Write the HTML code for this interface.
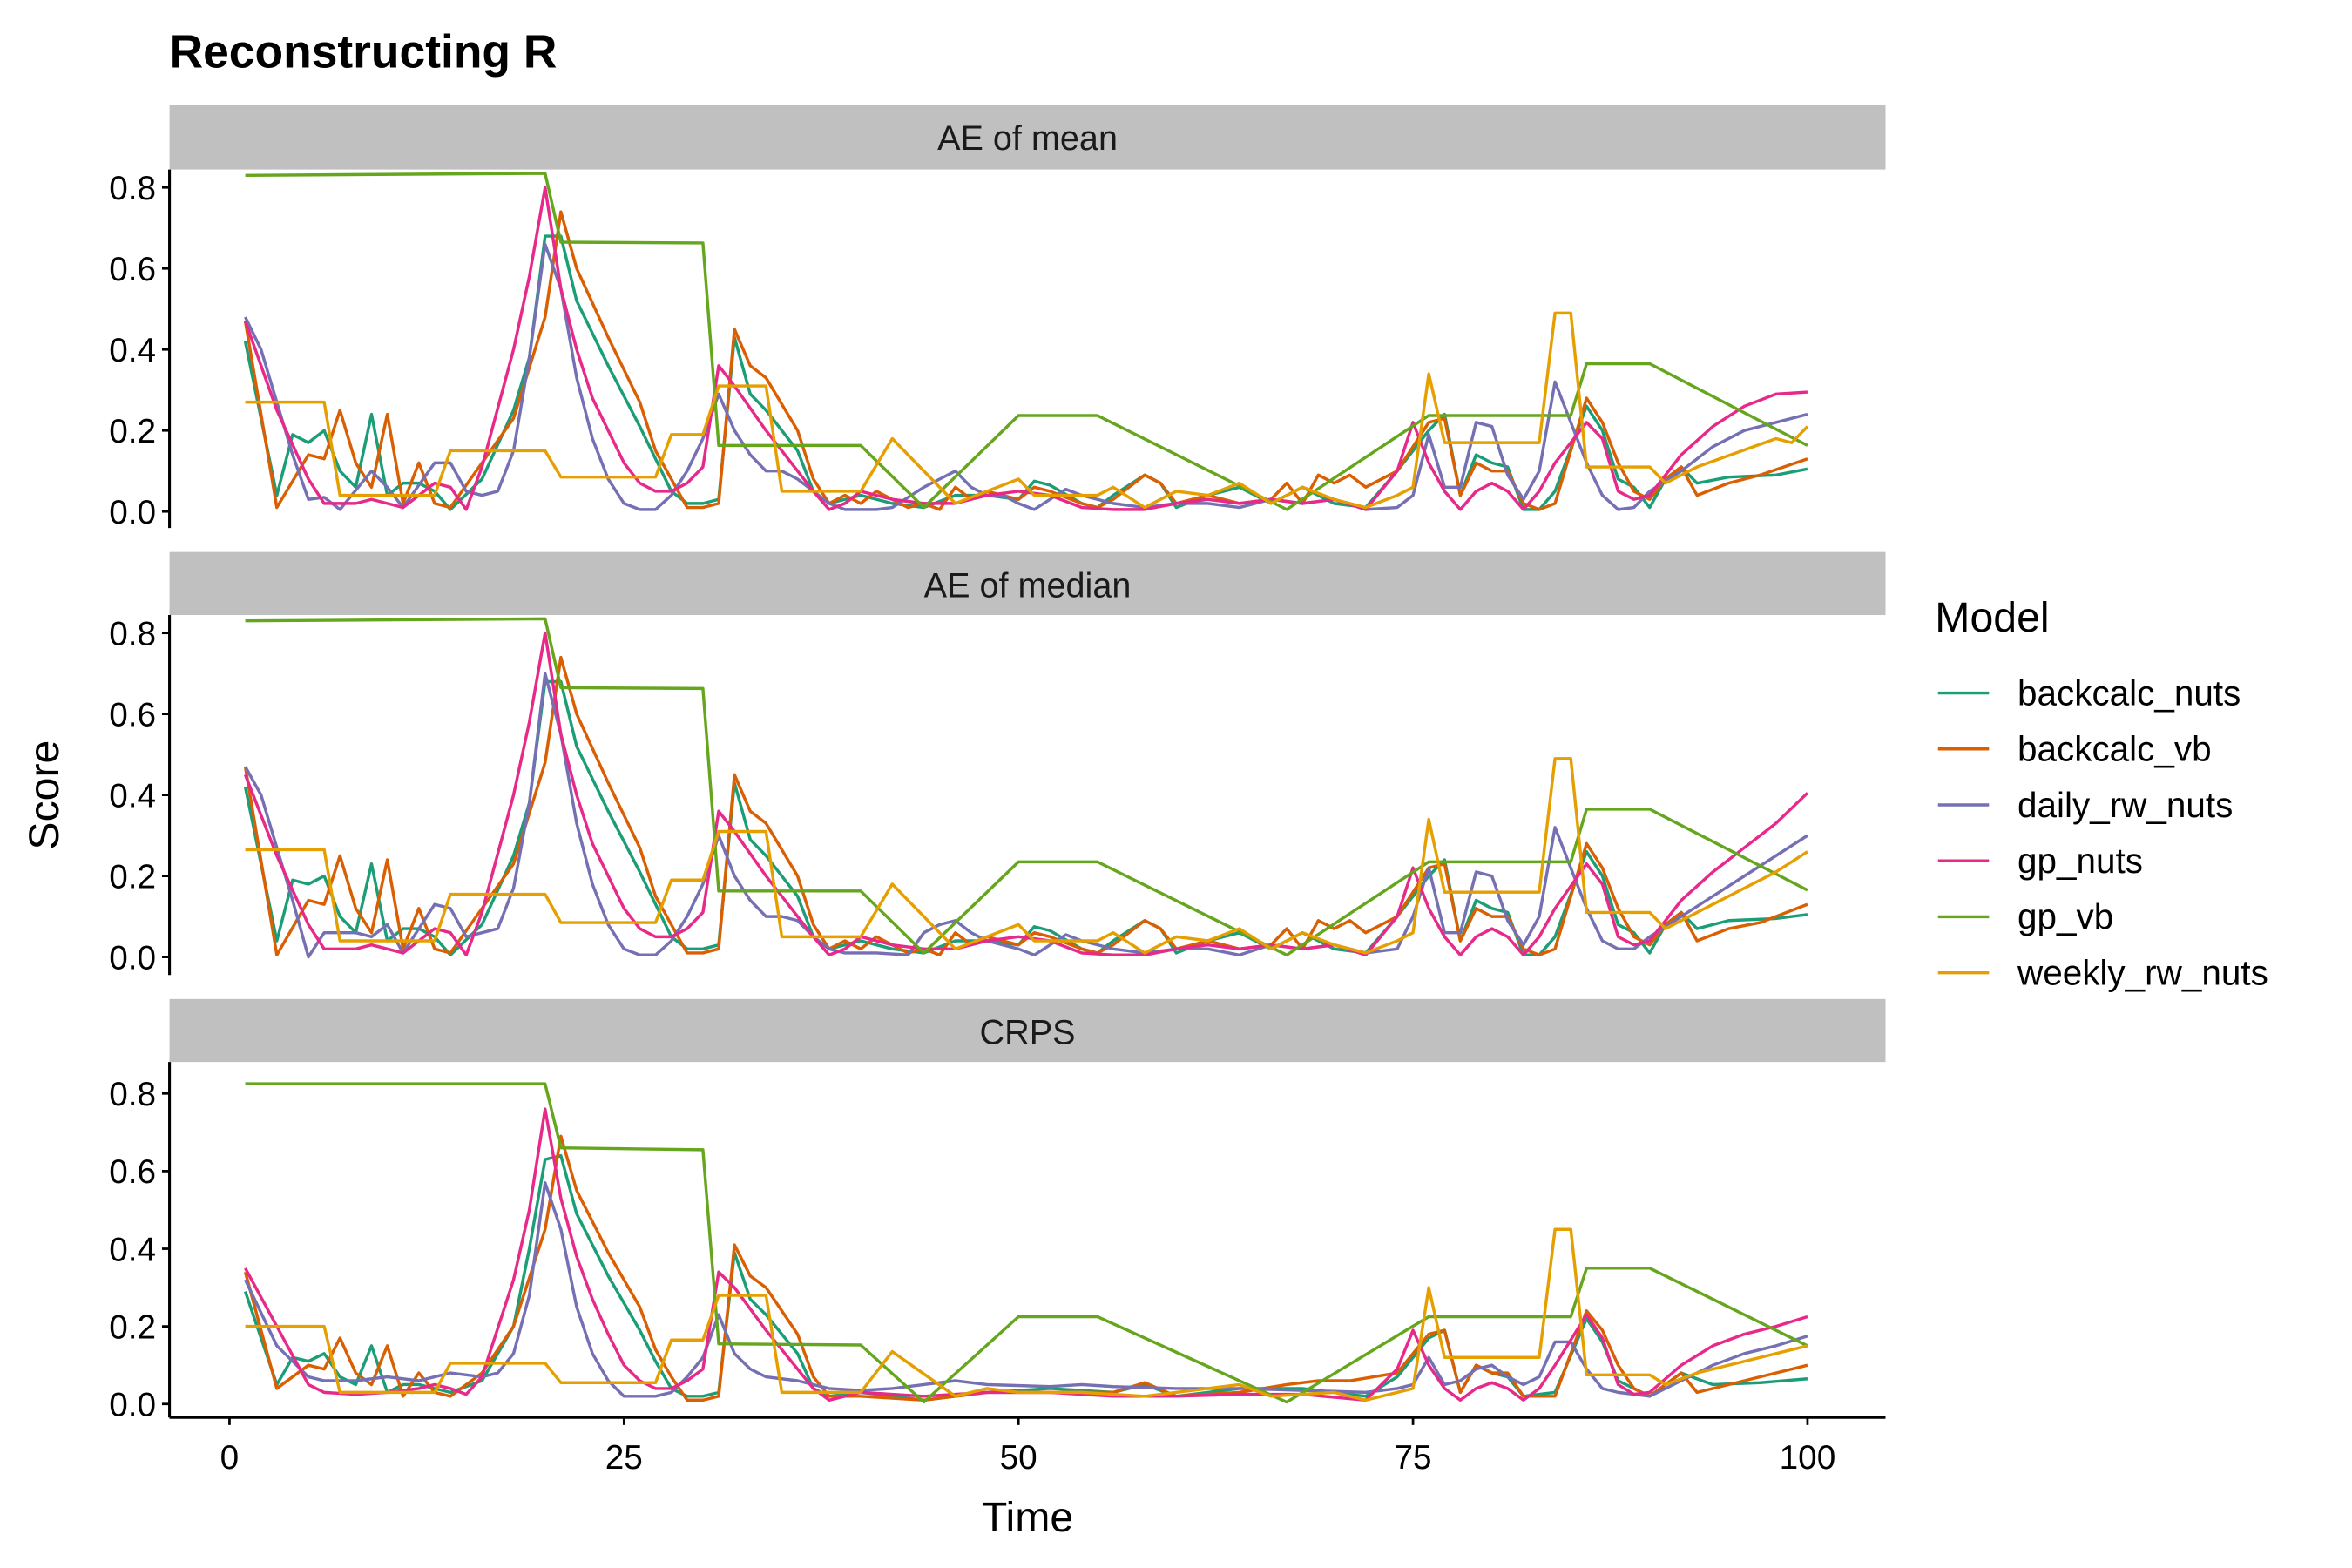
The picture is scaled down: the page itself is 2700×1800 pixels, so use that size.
<!DOCTYPE html>
<html><head><meta charset="utf-8"><style>html,body{margin:0;padding:0;background:#fff}svg{display:block}text{font-family:"Liberation Sans",sans-serif}</style></head>
<body>
<svg id="chart" width="2700" height="1800" viewBox="0 0 1568 1045.33" xmlns="http://www.w3.org/2000/svg">
<text x="113" y="45" font-size="31" font-weight="bold" fill="#000">Reconstructing R</text>
<text transform="translate(39,530) rotate(-90)" text-anchor="middle" font-size="28" fill="#000">Score</text>
<text x="685" y="1021" text-anchor="middle" font-size="28" fill="#000">Time</text>
<g id="panels"></g>
<g id="legend">
<text x="1290" y="421" font-size="28" fill="#000">Model</text>
</g>
</svg>
<script>
const seriesNames = ["backcalc_nuts","backcalc_vb","daily_rw_nuts","gp_nuts","gp_vb","weekly_rw_nuts"];
const panelTitles = ["AE of mean","AE of median","CRPS"];
const yTicks = [0,0.2,0.4,0.6,0.8];
const xTicks = [0,25,50,75,100];

// Panel 1: AE of mean  ([time, value] pairs)
const p1_backcalc_nuts = [[1,.42],[3,.04],[4,.19],[5,.17],[6,.2],[7,.1],[8,.06],[9,.24],[10,.04],[11,.07],[12,.07],[13,.05],[14,.005],[16,.08],[18,.25],[19,.38],[20,.68],[21,.68],[22,.52],[24,.36],[26,.21],[27,.13],[28,.05],[29,.02],[30,.02],[31,.03],[32,.43],[33,.29],[34,.25],[36,.15],[37,.05],[38,.02],[39,.03],[40,.04],[42,.02],[44,.01],[46,.04],[48,.04],[50,.03],[51,.075],[52,.065],[54,.02],[55,.01],[56,.04],[58,.09],[59,.07],[60,.01],[62,.04],[64,.06],[66,.02],[68,.06],[70,.02],[72,.01],[74,.1],[76,.2],[77,.24],[78,.04],[79,.14],[80,.12],[81,.11],[82,.005],[83,.005],[84,.05],[86,.26],[87,.2],[88,.08],[89,.06],[90,.01],[91,.08],[92,.11],[93,.07],[95,.085],[98,.09],[100,.105]];
const p1_backcalc_vb = [[1,.47],[3,.01],[5,.14],[6,.13],[7,.25],[8,.12],[9,.06],[10,.24],[11,.02],[12,.12],[13,.02],[14,.01],[16,.12],[18,.23],[20,.48],[21,.74],[22,.6],[24,.43],[26,.27],[27,.15],[28,.08],[29,.01],[30,.01],[31,.02],[32,.45],[33,.36],[34,.33],[36,.2],[37,.08],[38,.02],[39,.04],[40,.02],[41,.05],[42,.03],[43,.01],[44,.02],[45,.005],[46,.06],[47,.03],[48,.05],[50,.03],[51,.06],[52,.05],[54,.02],[55,.01],[56,.03],[58,.09],[59,.07],[60,.02],[62,.04],[64,.02],[66,.03],[67,.07],[68,.02],[69,.09],[70,.07],[71,.09],[72,.06],[74,.1],[75,.16],[76,.22],[77,.23],[78,.04],[79,.12],[80,.1],[81,.1],[82,.02],[83,.005],[84,.02],[86,.28],[87,.22],[88,.12],[89,.05],[90,.03],[91,.08],[92,.11],[93,.04],[95,.07],[97,.09],[100,.13]];
const p1_daily_rw_nuts = [[1,.48],[2,.4],[4,.14],[5,.03],[6,.035],[7,.005],[9,.1],[10,.06],[11,.01],[13,.12],[14,.12],[15,.05],[16,.04],[17,.05],[18,.15],[19,.38],[20,.66],[21,.55],[22,.33],[23,.18],[24,.08],[25,.02],[26,.005],[27,.005],[28,.04],[29,.1],[30,.18],[31,.29],[32,.2],[33,.14],[34,.1],[35,.1],[36,.08],[37,.05],[38,.02],[39,.005],[41,.005],[42,.01],[44,.06],[45,.08],[46,.1],[47,.06],[48,.04],[49,.04],[50,.02],[51,.005],[52,.03],[53,.055],[54,.04],[56,.02],[58,.01],[60,.02],[62,.02],[64,.01],[66,.03],[68,.02],[70,.03],[72,.005],[74,.01],[75,.04],[76,.19],[77,.06],[78,.06],[79,.22],[80,.21],[81,.09],[82,.03],[83,.1],[84,.32],[85,.22],[86,.12],[87,.04],[88,.005],[89,.01],[90,.05],[92,.1],[94,.16],[96,.2],[98,.22],[100,.24]];
const p1_gp_nuts = [[1,.47],[3,.25],[5,.08],[6,.02],[8,.02],[9,.03],[10,.02],[11,.01],[12,.04],[13,.07],[14,.06],[15,.005],[16,.11],[18,.4],[19,.58],[20,.8],[21,.55],[22,.4],[23,.28],[24,.2],[25,.12],[26,.07],[27,.05],[28,.05],[29,.07],[30,.11],[31,.36],[32,.31],[34,.2],[36,.1],[37,.05],[38,.005],[39,.02],[40,.05],[42,.03],[44,.02],[46,.02],[48,.04],[50,.05],[52,.04],[54,.01],[56,.005],[58,.005],[60,.02],[62,.03],[64,.02],[66,.03],[68,.02],[70,.03],[72,.005],[74,.1],[75,.22],[76,.12],[77,.05],[78,.005],[79,.05],[80,.07],[81,.05],[82,.005],[83,.05],[84,.12],[86,.22],[87,.18],[88,.05],[89,.03],[90,.04],[92,.14],[94,.21],[96,.26],[98,.29],[100,.295]];
const p1_gp_vb = [[1,.83],[20,.835],[21,.665],[30,.663],[31,.163],[40,.163],[44,.01],[50,.237],[55,.237],[67,.005],[76,.237],[85,.237],[86,.365],[90,.365],[100,.163]];
const p1_weekly_rw_nuts = [[1,.27],[6,.27],[7,.04],[13,.04],[14,.15],[20,.15],[21,.085],[27,.085],[28,.19],[30,.19],[31,.31],[34,.31],[35,.05],[40,.05],[42,.18],[46,.02],[48,.05],[50,.08],[51,.04],[55,.04],[56,.06],[58,.01],[60,.05],[62,.04],[64,.07],[66,.02],[68,.06],[70,.03],[72,.01],[74,.04],[75,.06],[76,.34],[77,.17],[83,.17],[84,.49],[85,.49],[86,.11],[90,.11],[91,.07],[93,.11],[98,.18],[99,.17],[100,.21]];

// Panel 2: AE of median
const p2_backcalc_nuts = [[1,.42],[3,.04],[4,.19],[5,.18],[6,.2],[7,.1],[8,.06],[9,.23],[10,.04],[11,.07],[12,.07],[13,.05],[14,.005],[16,.08],[18,.25],[19,.38],[20,.68],[21,.68],[22,.52],[24,.36],[26,.21],[27,.13],[28,.05],[29,.02],[30,.02],[31,.03],[32,.43],[33,.29],[34,.25],[36,.15],[37,.05],[38,.02],[39,.03],[40,.04],[42,.02],[44,.01],[46,.04],[48,.04],[50,.03],[51,.075],[52,.065],[54,.02],[55,.01],[56,.04],[58,.09],[59,.07],[60,.01],[62,.04],[64,.06],[66,.02],[68,.06],[70,.02],[72,.01],[74,.1],[76,.2],[77,.24],[78,.04],[79,.14],[80,.12],[81,.11],[82,.005],[83,.005],[84,.05],[86,.26],[87,.2],[88,.08],[89,.06],[90,.01],[91,.08],[92,.11],[93,.07],[95,.09],[98,.095],[100,.105]];
const p2_backcalc_vb = [[1,.47],[3,.005],[5,.14],[6,.13],[7,.25],[8,.12],[9,.06],[10,.24],[11,.02],[12,.12],[13,.02],[14,.01],[16,.12],[18,.23],[20,.48],[21,.74],[22,.6],[24,.43],[26,.27],[27,.15],[28,.08],[29,.01],[30,.01],[31,.02],[32,.45],[33,.36],[34,.33],[36,.2],[37,.08],[38,.02],[39,.04],[40,.02],[41,.05],[42,.03],[43,.01],[44,.02],[45,.005],[46,.06],[47,.03],[48,.05],[50,.03],[51,.06],[52,.05],[54,.02],[55,.01],[56,.03],[58,.09],[59,.07],[60,.02],[62,.04],[64,.02],[66,.03],[67,.07],[68,.02],[69,.09],[70,.07],[71,.09],[72,.06],[74,.1],[75,.16],[76,.22],[77,.23],[78,.04],[79,.12],[80,.1],[81,.1],[82,.02],[83,.005],[84,.02],[86,.28],[87,.22],[88,.12],[89,.05],[90,.03],[91,.08],[92,.11],[93,.04],[95,.07],[97,.085],[100,.13]];
const p2_daily_rw_nuts = [[1,.47],[2,.4],[4,.14],[5,.0],[6,.06],[7,.06],[8,.06],[9,.05],[10,.08],[11,.01],[13,.13],[14,.12],[15,.05],[16,.06],[17,.07],[18,.17],[19,.38],[20,.7],[21,.55],[22,.33],[23,.18],[24,.08],[25,.02],[26,.005],[27,.005],[28,.04],[29,.1],[30,.18],[31,.3],[32,.2],[33,.14],[34,.1],[35,.1],[36,.09],[37,.05],[38,.02],[39,.01],[41,.01],[43,.005],[44,.06],[45,.08],[46,.09],[47,.06],[48,.04],[50,.02],[51,.005],[52,.03],[53,.055],[54,.04],[56,.02],[58,.01],[60,.02],[62,.02],[64,.005],[66,.03],[68,.02],[70,.03],[72,.01],[74,.02],[75,.1],[76,.22],[77,.06],[78,.06],[79,.21],[80,.2],[81,.09],[82,.03],[83,.1],[84,.32],[85,.22],[86,.12],[87,.04],[88,.02],[89,.02],[90,.05],[92,.1],[94,.15],[96,.2],[98,.25],[100,.3]];
const p2_gp_nuts = [[1,.45],[3,.25],[5,.08],[6,.02],[8,.02],[9,.03],[10,.02],[11,.01],[12,.04],[13,.07],[14,.06],[15,.005],[16,.11],[18,.4],[19,.58],[20,.8],[21,.55],[22,.4],[23,.28],[24,.2],[25,.12],[26,.07],[27,.05],[28,.05],[29,.07],[30,.11],[31,.36],[32,.31],[34,.2],[36,.1],[37,.05],[38,.005],[39,.02],[40,.05],[42,.03],[44,.02],[46,.02],[48,.04],[50,.05],[52,.04],[54,.01],[56,.005],[58,.005],[60,.02],[62,.03],[64,.02],[66,.03],[68,.02],[70,.03],[72,.005],[74,.1],[75,.22],[76,.12],[77,.05],[78,.005],[79,.05],[80,.07],[81,.05],[82,.005],[83,.05],[84,.12],[86,.23],[87,.18],[88,.05],[89,.03],[90,.04],[92,.14],[94,.21],[96,.27],[98,.33],[100,.405]];
const p2_gp_vb = [[1,.83],[20,.835],[21,.665],[30,.663],[31,.163],[40,.163],[44,.01],[50,.235],[55,.235],[67,.005],[76,.235],[85,.235],[86,.365],[90,.365],[100,.165]];
const p2_weekly_rw_nuts = [[1,.265],[6,.265],[7,.04],[13,.04],[14,.155],[20,.155],[21,.085],[27,.085],[28,.19],[30,.19],[31,.31],[34,.31],[35,.05],[40,.05],[42,.18],[46,.02],[48,.05],[50,.08],[51,.04],[55,.04],[56,.06],[58,.01],[60,.05],[62,.04],[64,.07],[66,.02],[68,.06],[70,.03],[72,.01],[74,.04],[75,.06],[76,.34],[77,.16],[83,.16],[84,.49],[85,.49],[86,.11],[90,.11],[91,.07],[93,.11],[98,.21],[100,.26]];

// Panel 3: CRPS
const p3_backcalc_nuts = [[1,.29],[3,.05],[4,.12],[5,.11],[6,.13],[7,.07],[8,.05],[9,.15],[10,.03],[11,.05],[12,.05],[13,.04],[14,.03],[16,.06],[18,.2],[19,.4],[20,.63],[21,.64],[22,.49],[24,.33],[26,.19],[27,.11],[28,.04],[29,.02],[30,.02],[31,.03],[32,.39],[33,.27],[34,.23],[36,.13],[37,.04],[38,.02],[40,.03],[44,.01],[48,.03],[52,.04],[56,.03],[58,.05],[60,.02],[64,.04],[68,.04],[72,.02],[74,.07],[76,.17],[77,.19],[78,.03],[79,.1],[80,.08],[81,.07],[82,.02],[84,.03],[86,.22],[87,.16],[88,.06],[90,.02],[92,.08],[94,.05],[97,.055],[100,.065]];
const p3_backcalc_vb = [[1,.34],[3,.04],[5,.1],[6,.09],[7,.17],[8,.08],[9,.05],[10,.15],[11,.02],[12,.08],[13,.03],[14,.02],[16,.08],[18,.2],[20,.45],[21,.69],[22,.55],[24,.39],[26,.25],[27,.14],[28,.07],[29,.01],[30,.01],[31,.02],[32,.41],[33,.33],[34,.3],[36,.18],[37,.07],[38,.02],[40,.02],[44,.01],[48,.03],[52,.03],[56,.03],[58,.055],[60,.02],[64,.03],[67,.05],[69,.06],[71,.06],[74,.08],[75,.13],[76,.18],[77,.19],[78,.03],[79,.1],[80,.08],[81,.08],[82,.02],[84,.02],[86,.24],[87,.19],[88,.1],[89,.04],[90,.02],[92,.08],[93,.03],[96,.06],[100,.1]];
const p3_daily_rw_nuts = [[1,.32],[3,.15],[5,.07],[6,.06],[8,.06],[10,.07],[12,.06],[14,.08],[16,.07],[17,.08],[18,.13],[19,.28],[20,.57],[21,.45],[22,.25],[23,.13],[24,.06],[25,.02],[27,.02],[28,.03],[29,.07],[30,.12],[31,.23],[32,.13],[33,.09],[34,.07],[36,.06],[38,.04],[40,.035],[42,.04],[44,.05],[46,.06],[48,.05],[52,.045],[54,.05],[56,.045],[60,.04],[64,.04],[68,.035],[72,.03],[74,.04],[75,.05],[76,.12],[77,.05],[78,.06],[79,.09],[80,.1],[81,.07],[82,.05],[83,.07],[84,.16],[85,.16],[86,.09],[87,.04],[88,.03],[90,.02],[92,.06],[94,.1],[96,.13],[98,.15],[100,.175]];
const p3_gp_nuts = [[1,.35],[3,.2],[5,.05],[6,.03],[8,.025],[10,.03],[12,.04],[13,.05],[14,.04],[15,.025],[16,.07],[18,.32],[19,.5],[20,.76],[21,.53],[22,.38],[23,.27],[24,.18],[25,.1],[26,.06],[27,.04],[28,.04],[29,.06],[30,.09],[31,.34],[32,.3],[34,.19],[36,.09],[37,.04],[38,.01],[40,.03],[44,.02],[48,.03],[52,.03],[56,.02],[60,.02],[64,.025],[68,.025],[72,.01],[74,.09],[75,.19],[76,.1],[77,.04],[78,.01],[79,.04],[80,.055],[81,.04],[82,.01],[83,.04],[84,.1],[86,.23],[87,.17],[88,.05],[89,.025],[90,.03],[92,.1],[94,.15],[96,.18],[98,.2],[100,.225]];
const p3_gp_vb = [[1,.825],[20,.825],[21,.66],[30,.655],[31,.155],[40,.152],[44,.005],[50,.225],[55,.225],[67,.005],[76,.225],[85,.225],[86,.35],[90,.35],[100,.15]];
const p3_weekly_rw_nuts = [[1,.2],[6,.2],[7,.03],[13,.03],[14,.105],[20,.105],[21,.055],[27,.055],[28,.165],[30,.165],[31,.28],[34,.28],[35,.03],[40,.03],[42,.135],[46,.02],[48,.04],[50,.03],[54,.03],[58,.02],[62,.04],[64,.05],[66,.02],[70,.03],[72,.01],[75,.04],[76,.3],[77,.12],[83,.12],[84,.45],[85,.45],[86,.075],[90,.075],[91,.05],[93,.08],[98,.13],[100,.15]];

const panelData = [
  [p1_backcalc_nuts,p1_backcalc_vb,p1_daily_rw_nuts,p1_gp_nuts,p1_gp_vb,p1_weekly_rw_nuts],
  [p2_backcalc_nuts,p2_backcalc_vb,p2_daily_rw_nuts,p2_gp_nuts,p2_gp_vb,p2_weekly_rw_nuts],
  [p3_backcalc_nuts,p3_backcalc_vb,p3_daily_rw_nuts,p3_gp_nuts,p3_gp_vb,p3_weekly_rw_nuts]
];

const colors = ["#1b9e77","#d95f02","#7570b3","#e7298a","#66a61e","#e69f00"];
const NS = "http://www.w3.org/2000/svg";
const left = 113, right = 1257;
const layout = [
  {stripTop:70, top:113, bottom:352, y0:341, y8:125},
  {stripTop:368, top:410, bottom:650, y0:638, y8:422},
  {stripTop:666, top:708, bottom:945, y0:936, y8:729}
];
function xScale(t){ return 153 + (t/25)*263; }
function mk(tag, attrs, parent){ const e=document.createElementNS(NS,tag); for(const k in attrs) e.setAttribute(k,attrs[k]); parent.appendChild(e); return e; }
const panelsG = document.getElementById('panels');
layout.forEach((L, pi) => {
  const yScale = v => L.y0 - v*(L.y0-L.y8)/0.8;
  const g = mk('g',{},panelsG);
  
  
  const strip = mk('rect',{x:left,y:L.stripTop,width:right-left,height:L.top-L.stripTop,fill:'#c0c0c0'},g);
  
  
  const st = mk('text',{x:(left+right)/2,y:L.stripTop+30,'text-anchor':'middle','font-size':23,fill:'#1a1a1a'},g);
  st.textContent = panelTitles[pi];
  
  
  const ax = mk('line',{x1:left,x2:left,y1:L.top,y2:L.bottom,stroke:'#000','stroke-width':1.8},g);
  
  
  yTicks.forEach(v => {
    const y = yScale(v);
    const tk = mk('line',{x1:left-5,x2:left,y1:y,y2:y,stroke:'#000','stroke-width':1.6},g);
    
    
    const tl = mk('text',{x:left-9,y:y+8,'text-anchor':'end','font-size':22.5,fill:'#000'},g);
    tl.textContent = v.toFixed(1);
    
    
  });
  panelData[pi].forEach((pts, si) => {
    const d = pts.map((p,i) => (i?'L':'M') + xScale(p[0]).toFixed(2) + ',' + yScale(p[1]).toFixed(2)).join(' ');
    const path = mk('path',{d:d,fill:'none',stroke:colors[si],'stroke-width':2,'stroke-linejoin':'round'},g);
    
    
  });
});
// x axis
const xg = mk('g',{},panelsG);


mk('line',{x1:left,x2:right,y1:945,y2:945,stroke:'#000','stroke-width':1.8},xg);
xTicks.forEach(t => {
  const x = xScale(t);
  const tk = mk('line',{x1:x,x2:x,y1:945,y2:950,stroke:'#000','stroke-width':1.6},xg);
  
  
  const tl = mk('text',{x:x,y:979,'text-anchor':'middle','font-size':22.5,fill:'#000'},xg);
  tl.textContent = t;
  
  
});
// legend
const lg = document.getElementById('legend');
seriesNames.forEach((n, i) => {
  const y = 462 + i*37.3;
  const ln = mk('line',{x1:1292,x2:1326,y1:y,y2:y,stroke:colors[i],'stroke-width':2},lg);
  
  
  const tx = mk('text',{x:1345,y:y+8,'font-size':23.5,fill:'#000'},lg);
  tx.textContent = n;
  
  
});
</script>
</body></html>
